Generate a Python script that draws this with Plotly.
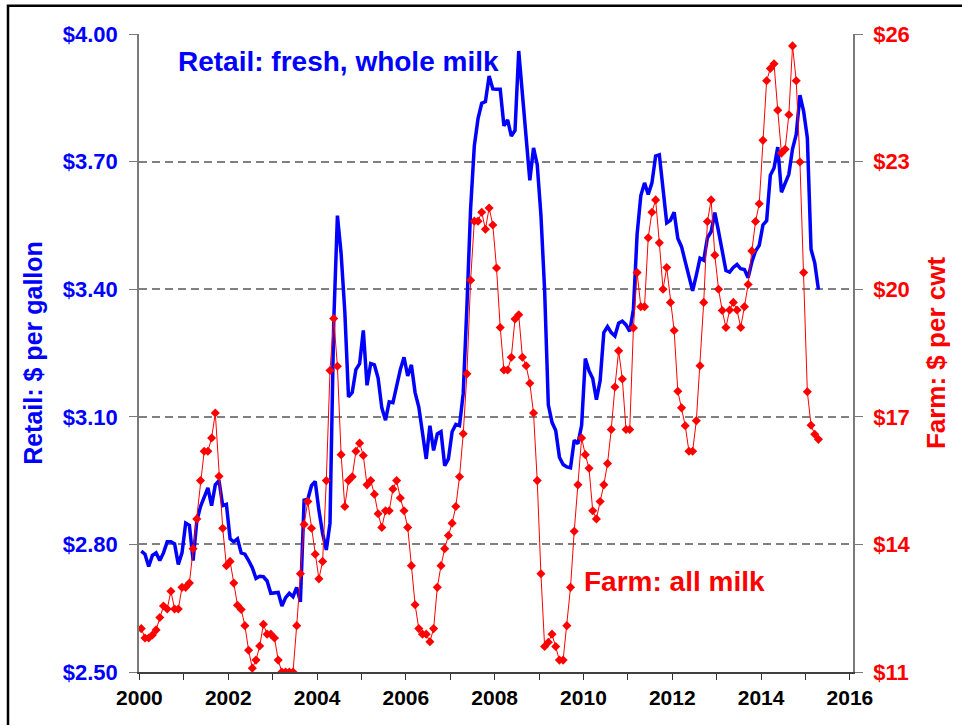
import numpy as np
import plotly.graph_objects as go

# Monthly values, Jan 2000 .. Apr 2015
retail = [
    2.784, 2.777, 2.748, 2.774, 2.780, 2.762, 2.780, 2.806, 2.806, 2.801, 2.753, 2.780,
    2.850, 2.845, 2.762, 2.855, 2.889, 2.911, 2.933, 2.891, 2.940, 2.950, 2.891, 2.894,
    2.813, 2.806, 2.813, 2.780, 2.777, 2.762, 2.745, 2.720, 2.725, 2.724, 2.714, 2.685,
    2.687, 2.687, 2.655, 2.675, 2.685, 2.677, 2.699, 2.665, 2.904, 2.906, 2.938, 2.948,
    2.880, 2.826, 2.787, 2.850, 3.320, 3.573, 3.484, 3.347, 3.147, 3.157, 3.211, 3.225,
    3.303, 3.174, 3.225, 3.222, 3.191, 3.121, 3.092, 3.135, 3.133, 3.177, 3.211, 3.240,
    3.196, 3.222, 3.157, 3.123, 3.065, 3.001, 3.079, 3.021, 3.060, 3.065, 2.985, 3.001,
    3.065, 3.082, 3.079, 3.155, 3.360, 3.590, 3.737, 3.801, 3.837, 3.841, 3.901, 3.871,
    3.870, 3.870, 3.784, 3.798, 3.760, 3.773, 3.960, 3.857, 3.750, 3.656, 3.732, 3.693,
    3.575, 3.398, 3.128, 3.087, 3.068, 3.005, 2.988, 2.982, 2.980, 3.045, 3.037, 3.080,
    3.237, 3.208, 3.190, 3.140, 3.185, 3.298, 3.312, 3.298, 3.290, 3.320, 3.325, 3.316,
    3.301, 3.353, 3.530, 3.620, 3.650, 3.623, 3.650, 3.713, 3.716, 3.630, 3.556, 3.562,
    3.581, 3.519, 3.500, 3.465, 3.426, 3.396, 3.433, 3.473, 3.468, 3.521, 3.535, 3.580,
    3.536, 3.489, 3.444, 3.440, 3.451, 3.458, 3.448, 3.446, 3.427, 3.464, 3.490, 3.503,
    3.551, 3.561, 3.668, 3.685, 3.734, 3.628, 3.648, 3.670, 3.730, 3.764, 3.856, 3.818,
    3.756, 3.494, 3.462, 3.399,
]

farm = [
    12.02, 11.80, 11.80, 11.87, 11.99, 12.28, 12.55, 12.48, 12.90, 12.48, 12.48, 12.99,
    12.99, 13.09, 13.90, 14.60, 15.50, 16.19, 16.19, 16.50, 17.09, 15.60, 14.38, 13.50,
    13.60, 13.09, 12.57, 12.47, 12.09, 11.51, 11.09, 11.28, 11.61, 12.12, 11.89, 11.89,
    11.80, 11.28, 11.00, 11.00, 11.00, 11.00, 12.09, 13.31, 14.47, 15.01, 14.38, 13.77,
    13.19, 13.60, 15.50, 18.09, 19.31, 18.19, 16.11, 14.89, 15.50, 15.59, 16.19, 16.38,
    16.09, 15.40, 15.50, 15.18, 14.72, 14.40, 14.79, 14.79, 15.30, 15.50, 15.09, 14.79,
    14.40, 13.50, 12.58, 12.02, 11.89, 11.89, 11.71, 12.02, 12.99, 13.50, 13.90, 14.21,
    14.50, 14.89, 15.59, 16.60, 18.01, 20.21, 21.60, 21.60, 21.81, 21.41, 21.91, 21.51,
    20.50, 19.10, 18.10, 18.10, 18.40, 19.30, 19.40, 18.40, 18.20, 17.79, 17.09, 15.50,
    13.31, 11.60, 11.70, 11.89, 11.60, 11.28, 11.28, 12.09, 12.99, 14.31, 15.40, 16.50,
    16.11, 15.79, 14.79, 14.60, 15.01, 15.40, 15.90, 16.70, 17.70, 18.55, 17.89, 16.70,
    16.70, 19.09, 20.39, 19.59, 19.59, 21.21, 21.81, 22.10, 21.09, 20.00, 20.51, 19.69,
    19.03, 17.60, 17.21, 16.79, 16.19, 16.19, 16.91, 18.20, 19.69, 21.59, 22.10, 20.80,
    20.00, 19.50, 19.10, 19.51, 19.69, 19.51, 19.10, 19.59, 20.11, 20.90, 21.59, 22.01,
    23.50, 24.90, 25.19, 25.30, 24.21, 23.20, 23.29, 24.10, 25.72, 24.90, 22.99, 20.39,
    17.59, 16.80, 16.59, 16.47,
]

start_year = 2000
months = np.arange(len(retail))
years = start_year + (months + 0.5) / 12.0

year_ticks = [2000, 2002, 2004, 2006, 2008, 2010, 2012, 2014, 2016]
retail_ticks = [2.50, 2.80, 3.10, 3.40, 3.70, 4.00]
farm_ticks = [11, 14, 17, 20, 23, 26]

BLUE = "#0000FF"
RED = "#FF0000"
FONT = "Liberation Sans, Arial, sans-serif"
AXIS_GRAY = "#7a7a7a"

fig = go.Figure()
fig.add_trace(go.Scatter(
    x=years, y=retail, mode="lines", name="Retail",
    line=dict(color=BLUE, width=3.5), yaxis="y",
))
fig.add_trace(go.Scatter(
    x=years, y=farm, mode="lines+markers", name="Farm",
    line=dict(color=RED, width=1),
    marker=dict(symbol="diamond", size=7, color=RED),
    yaxis="y2",
))

W, H = 962, 725
L, R, T, B = 139, 853, 34.3, 672.3

fig.update_layout(
    width=W, height=H,
    margin=dict(l=L, r=W - R, t=T, b=H - B, pad=0, autoexpand=False),
    paper_bgcolor="white", plot_bgcolor="white",
    showlegend=False,
    font=dict(family=FONT),
    xaxis=dict(
        range=[1999.99, 2016.07],
        tickvals=year_ticks, ticktext=[str(y) for y in year_ticks],
        ticks="outside", ticklen=6, tickwidth=1.2, tickcolor="#303030",
        minor=dict(dtick=1, tick0=2000, ticks="outside", ticklen=6, tickwidth=1.2,
                   tickcolor="#303030", showgrid=False),
        showline=True, linecolor="#404040", linewidth=1.5,
        showgrid=False, zeroline=False,
        tickfont=dict(family=FONT, size=21, color="black", weight="bold"),
    ),
    yaxis=dict(
        range=[2.5, 4.0],
        tickvals=retail_ticks, ticktext=["$%.2f" % v for v in retail_ticks],
        ticks="outside", ticklen=8, tickwidth=1.2, tickcolor=AXIS_GRAY,
        ticklabelstandoff=7,
        showline=True, linecolor=AXIS_GRAY, linewidth=1.5,
        showgrid=True, gridcolor="#808080", gridwidth=1.5, griddash="8px,5px",
        zeroline=False,
        tickfont=dict(family=FONT, size=22, color=BLUE, weight="bold"),
        title=dict(text="Retail: $ per gallon", standoff=13,
                   font=dict(family=FONT, size=25, color=BLUE, weight="bold")),
    ),
    yaxis2=dict(
        range=[11, 26], overlaying="y", side="right",
        tickvals=farm_ticks, ticktext=["$%d" % v for v in farm_ticks],
        ticks="outside", ticklen=8, tickwidth=1.2, tickcolor=AXIS_GRAY,
        ticklabelstandoff=6,
        showline=True, linecolor=AXIS_GRAY, linewidth=1.5,
        showgrid=False, zeroline=False,
        tickfont=dict(family=FONT, size=22, color=RED, weight="bold"),
        title=dict(text="Farm: $ per cwt", standoff=17,
                   font=dict(family=FONT, size=26, color=RED, weight="bold")),
    ),
)

def px_x(px):
    return (px - L) / (R - L)

def px_y(py):
    return (B - py) / (B - T)

fig.add_annotation(
    text="Retail: fresh, whole milk", xref="paper", yref="paper",
    x=px_x(176), y=px_y(62), xanchor="left", yanchor="middle", showarrow=False,
    font=dict(family=FONT, size=28, color=BLUE, weight="bold"),
)
fig.add_annotation(
    text="Farm: all milk", xref="paper", yref="paper",
    x=px_x(582), y=px_y(582), xanchor="left", yanchor="middle", showarrow=False,
    font=dict(family=FONT, size=28, color=RED, weight="bold"),
)

# outer frame (left and top edges visible)
fig.add_shape(
    type="rect", xref="paper", yref="paper",
    x0=px_x(8), x1=px_x(1100), y0=px_y(900), y1=px_y(6),
    line=dict(color="black", width=2.5), fillcolor="rgba(0,0,0,0)", layer="above",
)

fig.write_html(
    "out.html",
    config={"displayModeBar": False},
    post_script="document.body.style.margin='0';",
)
